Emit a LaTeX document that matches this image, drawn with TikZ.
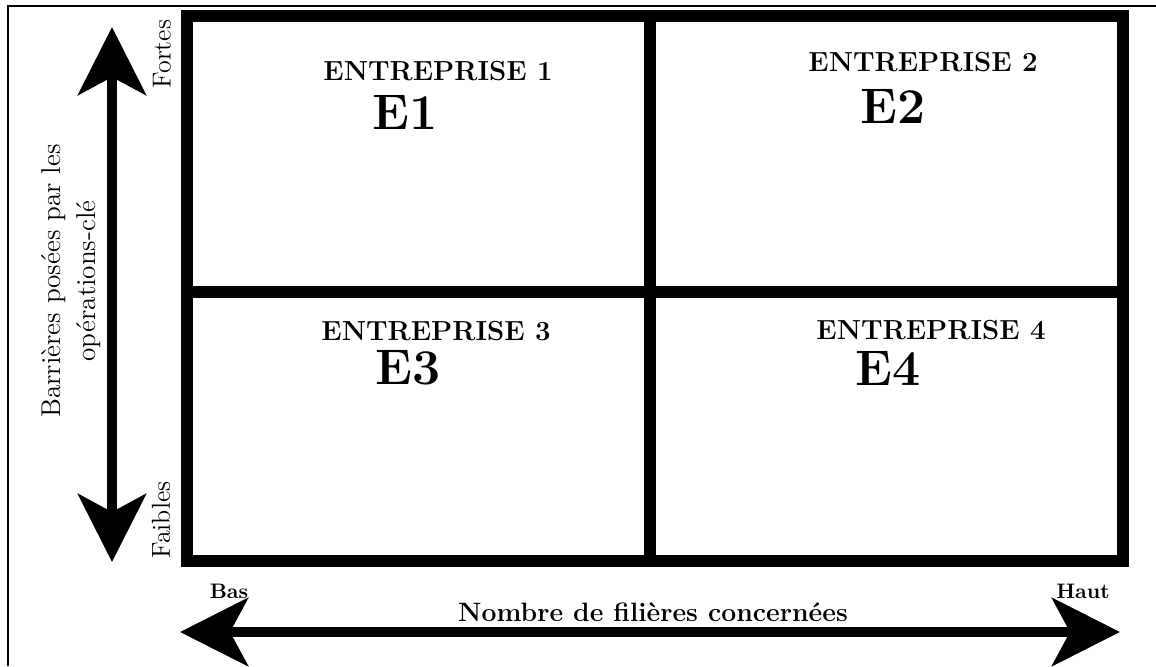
\documentclass[tikz,border=0pt]{standalone}
\usetikzlibrary{arrows.meta}
\begin{document}
\begin{tikzpicture}[x=0.5pt,y=-0.5pt,>={Stealth[length=34pt,width=34pt,inset=9pt]},line join=miter,
	font=\fontsize{13}{17}\selectfont,
	grille/.style={line width=6pt},
	axe/.style={line width=5pt,<->},
	firme/.style={font=\fontsize{13.8}{16}\selectfont\bfseries},
	sigle/.style={font=\fontsize{25}{28}\selectfont\bfseries},
	borne/.style={font=\fontsize{10.5}{12}\selectfont\bfseries}]
	\useasboundingbox (0,0) rectangle (1156,666);
	\draw [line width=0.6pt] (8,666)--(8,6)--(1156,6);
	% grille 2x2
	\coordinate (no) at (187,16);
	\coordinate (se) at (1123,561);
	\coordinate (mh) at (650,16);
	\coordinate (mb) at (650,561);
	\coordinate (mg) at (187,292);
	\coordinate (md) at (1123,292);
	\draw [grille] (no) rectangle (se) (mh)--(mb) (mg)--(md);
	% axes
	\coordinate (fort) at (112,27);
	\coordinate (faible) at (112,562);
	\coordinate (bas) at (180,632);
	\coordinate (haut) at (1120,632);
	\draw [axe] (faible)--(fort);
	\draw [axe] (bas)--(haut);
	\node (lfort) at (162,54) [rotate=90] {Fortes};
	\node (lfaible) at (161,520) [rotate=90] {Faibles};
	\node (barr) at (71,281) [rotate=90,align=center,font=\fontsize{13.6}{17.5}\selectfont] {Barrières posées par les\\opérations-clé};
	\node (lbas) at (229,591) [borne] {Bas};
	\node (lhaut) at (1083,591) [borne] {Haut};
	\node (nomb) at (653,612) [font=\fontsize{13.3}{16}\selectfont\bfseries] {Nombre de filières concernées};
	% entreprises
	\node (ent1) at (438,71) [firme] {ENTREPRISE 1};
	\node (e1) at (405,112) [sigle] {E1};
	\node (ent2) at (923,62) [firme] {ENTREPRISE 2};
	\node (e2) at (893,106) [sigle] {E2};
	\node (ent3) at (436,331) [firme] {ENTREPRISE 3};
	\node (e3) at (408,368) [sigle] {E3};
	\node (ent4) at (931,330) [firme] {ENTREPRISE 4};
	\node (e4) at (888,368) [sigle] {E4};
\end{tikzpicture}
\end{document}
